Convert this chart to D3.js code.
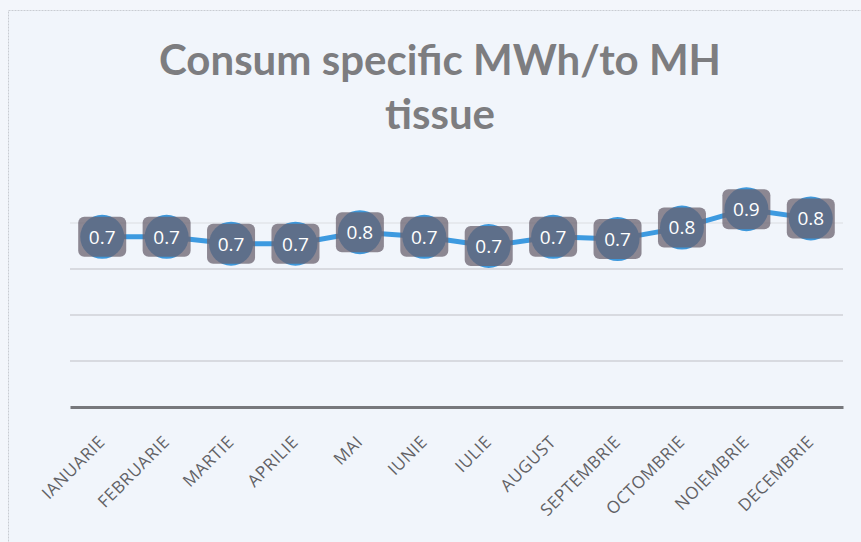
<!DOCTYPE html>
<html>
<head>
<meta charset="utf-8">
<script src="https://cdn.jsdelivr.net/npm/d3@7"></script>
<style>
  body { margin: 0; background: #f3f6fb; }
  svg { display: block; }
</style>
</head>
<body>
<script>
let width = 861;
let height = 542;

// data
let months = ["IANUARIE", "FEBRUARIE", "MARTIE", "APRILIE", "MAI", "IUNIE",
  "IULIE", "AUGUST", "SEPTEMBRIE", "OCTOMBRIE", "NOIEMBRIE", "DECEMBRIE"];
let consum = [0.74, 0.74, 0.71, 0.71, 0.76, 0.74, 0.70, 0.74, 0.73, 0.78, 0.86, 0.82];
let yTicks = [0.2, 0.4, 0.6, 0.8];
let titleLines = ["Consum specific MWh/to MH", "tissue"];

let svg = d3.select("body").append("svg")
  .attr("width", width)
  .attr("height", height);

// background + chart frame
svg.append("rect")
  .attr("width", width).attr("height", height)
  .attr("fill", "#f3f6fb");

svg.append("rect")
  .attr("x", 8.5).attr("y", 10.5)
  .attr("width", width + 20).attr("height", height + 20)
  .attr("fill", "#f1f5fb")
  .attr("stroke", "#c9ccd2")
  .attr("stroke-dasharray", "2,1");

let x = d3.scaleBand().domain(months).range([70, 843]);
let y = d3.scaleLinear().domain([0, 1]).range([407, 177]);
let cx = (m) => x(m) + x.bandwidth() / 2;

// title
svg.append("g")
  .selectAll("text")
  .data(titleLines)
  .enter()
  .append("text")
  .attr("x", 440)
  .attr("y", (d, i) => 75 + i * 54)
  .attr("text-anchor", "middle")
  .attr("font-family", "Lato, 'Open Sans', sans-serif")
  .attr("font-weight", "bold")
  .attr("font-size", 42)
  .attr("fill", "#7d7d80")
  .text((d) => d);

// gridlines
svg.append("g")
  .selectAll("line")
  .data(yTicks)
  .enter()
  .append("line")
  .attr("x1", 70).attr("x2", 843)
  .attr("y1", (d) => y(d)).attr("y2", (d) => y(d))
  .attr("stroke", (d) => (d === 0.8 ? "#dcdde2" : "#bfc0c6"))
  .attr("stroke-width", 1.2);

// x axis
let xAxis = svg.append("g")
  .attr("transform", `translate(0,${y(0)})`)
  .call(d3.axisBottom(x).tickSize(0).tickPadding(0));

xAxis.select(".domain")
  .attr("stroke", "#77787c")
  .attr("stroke-width", 3);

xAxis.selectAll(".tick text")
  .attr("font-family", "'Open Sans', Lato, sans-serif")
  .attr("font-size", 17)
  .attr("letter-spacing", 0.6)
  .attr("fill", "#616165")
  .attr("text-anchor", "end")
  .attr("dy", 0)
  .attr("transform", "translate(4,36) rotate(-45)");

// line
let line = d3.line()
  .x((d, i) => cx(months[i]))
  .y((d) => y(d));

svg.append("path")
  .datum(consum)
  .attr("fill", "none")
  .attr("stroke", "#3d9ae0")
  .attr("stroke-width", 5)
  .attr("stroke-linejoin", "round")
  .attr("d", line);

// markers + data labels
let pts = svg.append("g")
  .selectAll("g")
  .data(consum)
  .enter()
  .append("g")
  .attr("transform", (d, i) => `translate(${cx(months[i])},${y(d)})`);

pts.append("circle")
  .attr("r", 22)
  .attr("fill", "#3d98dc");

pts.append("rect")
  .attr("x", -24).attr("y", -20)
  .attr("width", 48).attr("height", 40)
  .attr("rx", 6)
  .attr("fill", "#6a626f")
  .attr("fill-opacity", 0.75);

pts.append("text")
  .attr("text-anchor", "middle")
  .attr("dy", "0.36em")
  .attr("font-family", "'Open Sans', Lato, sans-serif")
  .attr("font-size", 19)
  .attr("fill", "#ffffff")
  .text((d) => d3.format(".1f")(d));
</script>
</body>
</html>
